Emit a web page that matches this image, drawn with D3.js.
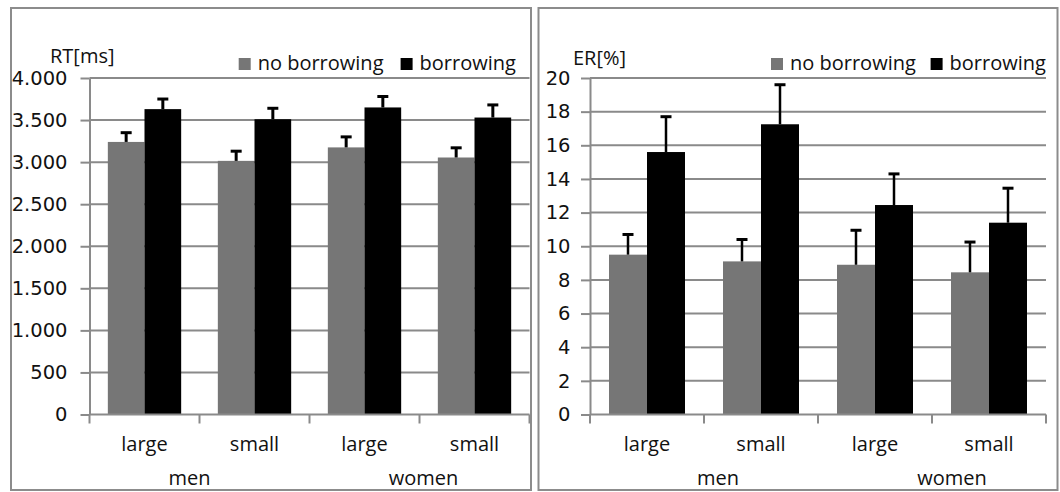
<!DOCTYPE html>
<html>
<head>
<meta charset="utf-8">
<script src="https://cdn.jsdelivr.net/npm/d3@7"></script>
<style>
  html, body { margin: 0; padding: 0; background: #fff; }
  svg { display: block; }
  text { font-family: "Open Sans", "Noto Sans", sans-serif; fill: #111; }
</style>
</head>
<body>
<svg id="chart" width="1060" height="492"></svg>
<script>
// ---- data ----
const categories = ["large", "small", "large", "small"];
const groups = ["men", "women"];
const seriesNames = ["no borrowing", "borrowing"];

const rtNoBorrowing = [3240, 3015, 3175, 3055];
const rtNoBorrowingErr = [110, 115, 125, 115];
const rtBorrowing = [3630, 3510, 3650, 3530];
const rtBorrowingErr = [120, 130, 130, 150];

const erNoBorrowing = [9.5, 9.1, 8.9, 8.45];
const erNoBorrowingErr = [1.2, 1.3, 2.05, 1.8];
const erBorrowing = [15.6, 17.25, 12.45, 11.4];
const erBorrowingErr = [2.1, 2.35, 1.85, 2.05];

const rtTicks = [0, 500, 1000, 1500, 2000, 2500, 3000, 3500, 4000];
const rtTickLabels = ["0", "500", "1.000", "1.500", "2.000", "2.500", "3.000", "3.500", "4.000"];
const erTicks = [0, 2, 4, 6, 8, 10, 12, 14, 16, 18, 20];
const erTickLabels = ["0", "2", "4", "6", "8", "10", "12", "14", "16", "18", "20"];

// ---- styling/layout ----
const gridColor = "#8a8a8a";
const colors = ["#767676", "#000000"];
const fontSize = 20;
const tickFont = '"DejaVu Sans", sans-serif';
const tickFontSize = 19.5;

const panels = [
  {
    box: [11, 8, 531, 490], plotL: 89.5, plotR: 529.5, title: "RT[ms]", titleX: 50, titleY: 63,
    values: [rtNoBorrowing, rtBorrowing], errs: [rtNoBorrowingErr, rtBorrowingErr],
    ticks: rtTicks, tickLabels: rtTickLabels, domain: [0, 4000], tickPad: 13,
    legend: [238.7, 400.6], groupOffsets: [-10, 4], errWidth: 3
  },
  {
    box: [538.5, 8, 1057.5, 490], plotL: 590, plotR: 1046, title: "ER[%]", titleX: 573, titleY: 65,
    values: [erNoBorrowing, erBorrowing], errs: [erNoBorrowingErr, erBorrowingErr],
    ticks: erTicks, tickLabels: erTickLabels, domain: [0, 20], tickPad: 10.5,
    legend: [771, 930.6], groupOffsets: [14, 20], errWidth: 2.5
  }
];
const plotTop = 78, plotBottom = 414.5;

const svg = d3.select("#chart");

panels.forEach(p => {
  const g = svg.append("g");
  // panel border
  g.append("rect")
    .attr("x", p.box[0]).attr("y", p.box[1])
    .attr("width", p.box[2] - p.box[0]).attr("height", p.box[3] - p.box[1])
    .attr("fill", "none").attr("stroke", "#8c8c8c").attr("stroke-width", 2);

  const y = d3.scaleLinear().domain(p.domain).range([plotBottom, plotTop]);
  const x = d3.scaleBand().domain(d3.range(categories.length)).range([p.plotL, p.plotR]).paddingInner(0).paddingOuter(0);
  const xs = d3.scaleBand().domain(d3.range(seriesNames.length)).range([0, x.bandwidth()]).paddingInner(0).paddingOuter(0.5);

  // gridlines
  g.append("g").selectAll("line").data(p.ticks.filter(t => t > 0)).join("line")
    .attr("x1", p.plotL).attr("x2", p.plotR)
    .attr("y1", d => y(d)).attr("y2", d => y(d))
    .attr("stroke", gridColor).attr("stroke-width", 2);

  // bars
  seriesNames.forEach((s, si) => {
    g.append("g").selectAll("rect").data(p.values[si]).join("rect")
      .attr("x", (d, i) => x(i) + xs(si))
      .attr("width", xs.bandwidth())
      .attr("y", d => y(d))
      .attr("height", d => y(0) - y(d))
      .attr("fill", colors[si]);
  });

  // error bars (upper only)
  seriesNames.forEach((s, si) => {
    const eg = g.append("g");
    p.values[si].forEach((v, i) => {
      const cx = x(i) + xs(si) + xs.bandwidth() / 2;
      const top = y(v + p.errs[si][i]);
      eg.append("line").attr("x1", cx).attr("x2", cx).attr("y1", y(v)).attr("y2", top)
        .attr("stroke", "#000").attr("stroke-width", p.errWidth);
      eg.append("line").attr("x1", cx - 5.5).attr("x2", cx + 5.5).attr("y1", top).attr("y2", top)
        .attr("stroke", "#000").attr("stroke-width", 3);
    });
  });

  // y axis
  const yAxis = d3.axisLeft(y).tickValues(p.ticks)
    .tickFormat((d, i) => p.tickLabels[i]).tickSize(9).tickPadding(p.tickPad).tickSizeOuter(0);
  const ya = g.append("g").attr("transform", `translate(${p.plotL},0)`).call(yAxis);
  ya.select(".domain").attr("stroke", gridColor).attr("stroke-width", 2);
  ya.selectAll(".tick line").attr("stroke", gridColor).attr("stroke-width", 2);
  ya.selectAll(".tick text").attr("font-size", tickFontSize).attr("fill", "#111")
    .style("font-family", tickFont);

  // x axis line and ticks
  g.append("line").attr("x1", p.plotL).attr("x2", p.plotR).attr("y1", y(0)).attr("y2", y(0))
    .attr("stroke", gridColor).attr("stroke-width", 2);
  const bounds = d3.range(categories.length).map(i => x(i)).concat([x(categories.length - 1) + x.bandwidth()]);
  g.append("g").selectAll("line").data(bounds).join("line")
    .attr("x1", d => d).attr("x2", d => d).attr("y1", y(0)).attr("y2", y(0) + 9)
    .attr("stroke", gridColor).attr("stroke-width", 2);

  // category labels
  g.append("g").selectAll("text").data(categories).join("text")
    .attr("x", (d, i) => x(i) + x.bandwidth() / 2).attr("y", 451)
    .attr("text-anchor", "middle").attr("font-size", fontSize).text(d => d);

  // group labels
  g.append("g").selectAll("text").data(groups).join("text")
    .attr("x", (d, gi) => (x(gi * 2) + x(gi * 2 + 1) + x.bandwidth()) / 2 + p.groupOffsets[gi])
    .attr("y", 485)
    .attr("text-anchor", "middle").attr("font-size", fontSize).text(d => d);

  // title
  g.append("text").attr("x", p.titleX).attr("y", p.titleY).attr("font-size", fontSize).text(p.title);

  // legend
  seriesNames.forEach((s, si) => {
    g.append("rect").attr("x", p.legend[si]).attr("y", 58).attr("width", 12).attr("height", 12).attr("fill", colors[si]);
    g.append("text").attr("x", p.legend[si] + 19).attr("y", 70).attr("font-size", fontSize).text(s);
  });
});
</script>
</body>
</html>
